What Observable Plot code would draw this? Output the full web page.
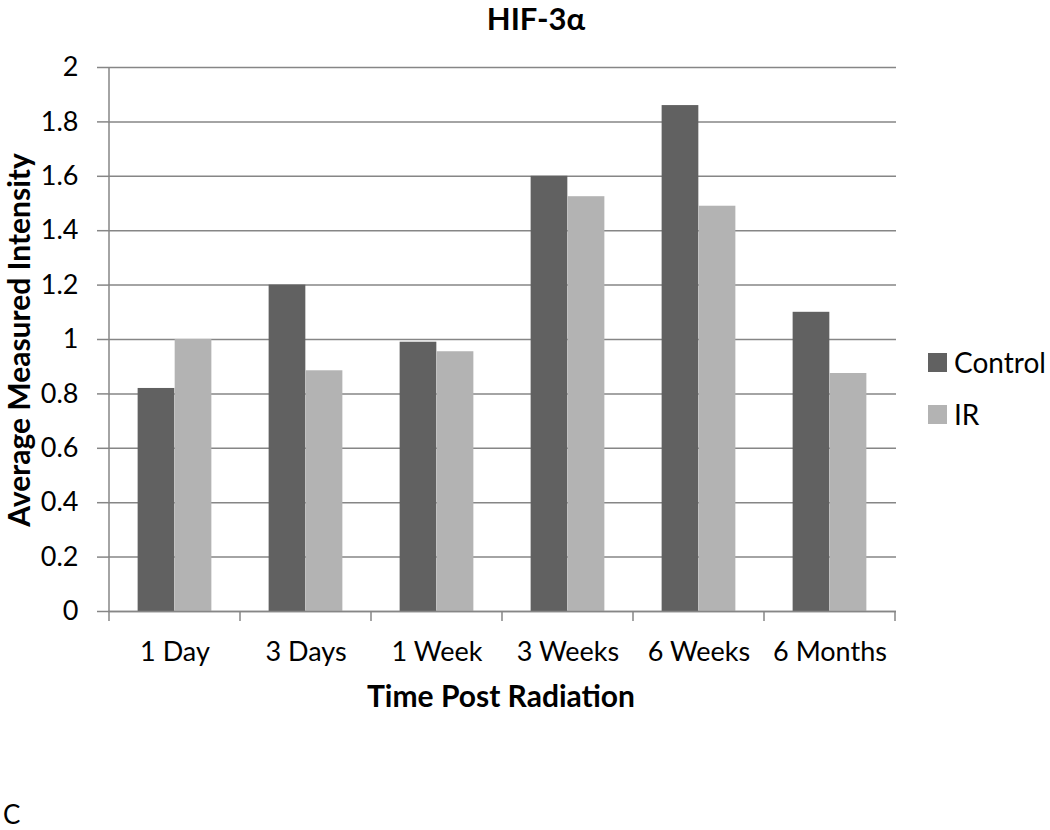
<!DOCTYPE html>
<html><head><meta charset="utf-8">
<script src="https://cdn.jsdelivr.net/npm/d3@7"></script>
<script src="https://cdn.jsdelivr.net/npm/@observablehq/plot@0.6"></script>
<style>
body{margin:0;background:#fff;}
#wrap{position:relative;width:1050px;height:830px;font-family:Lato,"Open Sans",sans-serif;color:#000;}
.lbl{position:absolute;white-space:nowrap;line-height:1;}
</style></head><body><div id="wrap"></div>
<script>
const categories = ["1 Day","3 Days","1 Week","3 Weeks","6 Weeks","6 Months"];
const seriesNames = ["Control","IR"];
const controlValues = [0.82,1.2,0.99,1.6,1.86,1.1];
const irValues = [1.0,0.885,0.955,1.525,1.49,0.875];
const yTicks = [0,0.2,0.4,0.6,0.8,1,1.2,1.4,1.6,1.8,2];
const seriesColors = ["#616161","#b3b3b3"];
const titleText = "HIF-3α";
const xTitle = "Time Post Radiation";
const yTitle = "Average Measured Intensity";
const panelLetter = "C";

const W = 1050, H = 830, mL = 108, mR = 154, mT = 67, mB = 219;
const bw = (W - mL - mR) / categories.length;
const outer = bw * 0.218;

const controlRows = categories.map((c,i)=>({cat:c, series:seriesNames[0], value:controlValues[i]}));
const irRows = categories.map((c,i)=>({cat:c, series:seriesNames[1], value:irValues[i]}));

const axisGray = "#868686";

const boundaryTicks = (index, scales, values, dims) => {
  const x = scales.x, y = scales.y;
  const step = x.step ? x.step() : bw;
  const y0 = y(0);
  const g = d3.create("svg:g").attr("stroke", axisGray).attr("stroke-width", 1.5);
  const xs = categories.map(c => x(c)).concat([x(categories[categories.length-1]) + step]);
  for (const xv of xs) g.append("line").attr("x1", xv).attr("x2", xv).attr("y1", y0).attr("y2", y0 + 10);
  g.append("line").attr("x1", xs[0]).attr("x2", xs[0]).attr("y1", y(2)).attr("y2", y0);
  return g.node();
};

const chart = Plot.plot({
  width: W, height: H,
  marginLeft: mL, marginRight: mR, marginTop: mT, marginBottom: mB,
  style: {fontFamily: "Lato, 'Open Sans', sans-serif", fontSize: "27px", color: "#000", background: "#fff"},
  x: {type: "band", domain: categories, padding: 0, label: null},
  y: {domain: [0, 2], label: null},
  color: {domain: seriesNames, range: seriesColors},
  marks: [
    Plot.gridY(yTicks, {stroke: axisGray, strokeOpacity: 1, strokeWidth: 1.5}),
    Plot.barY(controlRows, {x: "cat", y: "value", fill: "series", insetLeft: outer, insetRight: bw/2}),
    Plot.barY(irRows, {x: "cat", y: "value", fill: "series", insetLeft: bw/2, insetRight: outer}),
    Plot.ruleY([0], {stroke: axisGray, strokeWidth: 1.5}),
    Plot.axisY({ticks: yTicks, tickSize: 11, tickPadding: 19, stroke: axisGray, strokeWidth: 1.5, tickFormat: d => String(d), label: null}),
    Plot.axisX({tickSize: 0, tickPadding: 30, label: null}),
    boundaryTicks
  ]
});

const wrap = document.getElementById("wrap");
wrap.appendChild(chart);
const add = (text, css) => { const d = document.createElement("div"); d.className = "lbl"; d.textContent = text; d.style.cssText += css; wrap.appendChild(d); return d; };
add(titleText, "left:536px;top:3px;transform:translateX(-50%);font-weight:bold;font-size:31px;");
add(xTitle, "left:501px;top:680px;transform:translateX(-50%);font-weight:bold;font-size:30px;");
add(yTitle, "left:18px;top:340px;transform:translate(-50%,-50%) rotate(-90deg);font-weight:bold;font-size:30px;");
seriesNames.forEach((s,i) => {
  const top = 353 + i*52;
  const sq = document.createElement("div");
  sq.style.cssText = `position:absolute;left:928px;top:${top}px;width:19px;height:19px;background:${seriesColors[i]};`;
  wrap.appendChild(sq);
  add(s, `left:954px;top:${top - 5}px;font-size:28px;`);
});
add(panelLetter, "left:3px;top:801px;font-size:26px;");
</script></body></html>
